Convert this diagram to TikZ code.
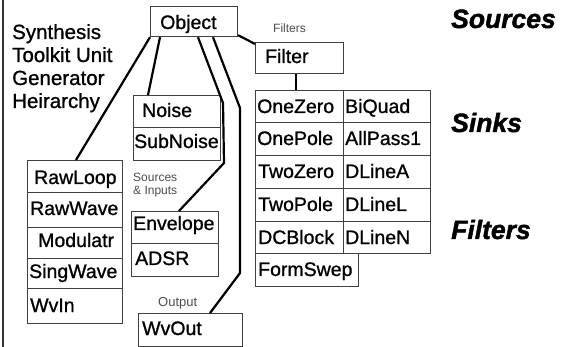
\documentclass[tikz,border=0pt]{standalone}
\usepackage{fontspec}
\setmainfont{Liberation Sans}
\newfontface\medface[FakeBold=1]{Liberation Sans}
\newfontfamily\bigfam[BoldItalicFeatures={FakeBold=1.5}]{Liberation Sans}
\usetikzlibrary{calc}
\begin{document}
\begin{tikzpicture}[x=1pt,y=-1pt,
  box/.style={draw=black!75, line width=1.2pt, rectangle, inner sep=0pt, anchor=north west},
  bt/.style={anchor=base west, inner sep=0pt, font=\medface\fontsize{19.5}{21}\selectfont},
  tt/.style={anchor=base west, inner sep=0pt, font=\medface\fontsize{20.5}{22}\selectfont},
  conn/.style={line width=2.2pt, black},
  small/.style={anchor=base west, inner sep=0pt, text=black!70, font=\fontsize{12}{14}\selectfont},
  big/.style={anchor=base west, inner sep=0pt, font=\bigfam\fontsize{26.5}{28}\selectfont\bfseries\itshape}]
\useasboundingbox (0,0) rectangle (567,347);
\fill[white] (0,0) rectangle (567,347);
\draw[line width=2pt, black!80] (3,0) -- (3,347);

% title
\node[tt] (t1) at (12,39) {Synthesis};
\node[tt] (t2) at (12,62) {Toolkit Unit};
\node[tt] (t3) at (12,85) {Generator};
\node[tt] (t4) at (12,108) {Heirarchy};

% big labels
\node[big] (lsrc) at (451,28) {Sources};
\node[big] (lsnk) at (451,132) {Sinks};
\node[big] (lflt) at (451,239) {Filters};

% Object
\node[box, minimum width=87pt, minimum height=30pt] (obj) at (150,6) {};
\node[bt] at (160,29) {Object};

% Filter
\node[small] (lfil) at (273,33) {Filters};
\node[box, minimum width=88pt, minimum height=31pt] (filter) at (255,42) {};
\node[bt] at (265,63) {Filter};

% grid
\node[box, minimum width=88pt, minimum height=32pt] (g11) at (255,90) {};
\node[box, minimum width=87pt, minimum height=32pt] (g12) at (343,90) {};
\node[box, minimum width=88pt, minimum height=33pt] (g21) at (255,122) {};
\node[box, minimum width=87pt, minimum height=33pt] (g22) at (343,122) {};
\node[box, minimum width=88pt, minimum height=33pt] (g31) at (255,155) {};
\node[box, minimum width=87pt, minimum height=33pt] (g32) at (343,155) {};
\node[box, minimum width=88pt, minimum height=33pt] (g41) at (255,188) {};
\node[box, minimum width=87pt, minimum height=33pt] (g42) at (343,188) {};
\node[box, minimum width=88pt, minimum height=32pt] (g51) at (255,221) {};
\node[box, minimum width=87pt, minimum height=32pt] (g52) at (343,221) {};
\node[box, minimum width=103pt, minimum height=33pt] (g61) at (255,253) {};
\node[bt] at (257,113) {OneZero};
\node[bt] at (345,113) {BiQuad};
\node[bt] at (257,145) {OnePole};
\node[bt] at (345,145) {AllPass1};
\node[bt] at (258,178) {TwoZero};
\node[bt] at (345,178) {DLineA};
\node[bt] at (258,211) {TwoPole};
\node[bt] at (345,211) {DLineL};
\node[bt] at (258,244) {DCBlock};
\node[bt] at (345,244) {DLineN};
\node[bt] at (258,276) {FormSwep};

% Noise
\node[box, minimum width=87pt, minimum height=32pt] (noise) at (133,95) {};
\node[box, minimum width=87pt, minimum height=33pt] (subnoise) at (133,127) {};
\node[bt] at (142,117) {Noise};
\node[bt] at (134,148) {SubNoise};

% left stack
\node[box, minimum width=95pt, minimum height=32pt] (raw) at (27,160) {};
\node[box, minimum width=95pt, minimum height=35pt] (rawwave) at (27,192) {};
\node[box, minimum width=95pt, minimum height=31pt] (modul) at (27,227) {};
\node[box, minimum width=95pt, minimum height=30pt] (sing) at (27,258) {};
\node[box, minimum width=95pt, minimum height=35pt] (wvin) at (27,288) {};
\node[bt] at (34,184) {RawLoop};
\node[bt] at (30,215) {RawWave};
\node[bt] at (38,247) {Modulatr};
\node[bt] at (29,278) {SingWave};
\node[bt] at (30,312) {WvIn};

% sources & inputs
\node[small] (ls1) at (133,182) {Sources};
\node[small] (ls2) at (133,195) {\& Inputs};
\node[box, minimum width=87pt, minimum height=32pt] (env) at (131,211) {};
\node[box, minimum width=87pt, minimum height=33pt] (adsr) at (131,243) {};
\node[bt] at (133,230) {Envelope};
\node[bt] at (135,265) {ADSR};

% output
\node[small, font=\fontsize{13}{15}\selectfont] (lout) at (158,306) {Output};
\node[box, minimum width=104pt, minimum height=33pt] (wvout) at (138,313) {};
\node[bt] at (142,335) {WvOut};

% connectors
\coordinate (e1) at (223,103);
\coordinate (e2) at (224,163);
\coordinate (w1) at (240,108);
\coordinate (w2) at (240,273);
\draw[conn] ($(obj.south east)+(0,-2)$) -- ($(filter.north west)+(0,2)$);
\draw[conn] ($(filter.south west)+(41,0)$) -- ($(g11.north west)+(41,0)$);
\draw[conn] ($(obj.south west)+(10,0)$) -- ($(noise.north west)+(15,0)$);
\draw[conn] (obj.south west) -- ($(raw.north west)+(49,0)$);
\draw[conn] ($(obj.south west)+(48,0)$) -- (e1) -- (e2) -- ($(env.north west)+(48,0)$);
\draw[conn] ($(obj.south west)+(63,0)$) -- (w1) -- (w2) -- ($(wvout.north west)+(72,0)$);
\end{tikzpicture}
\end{document}
